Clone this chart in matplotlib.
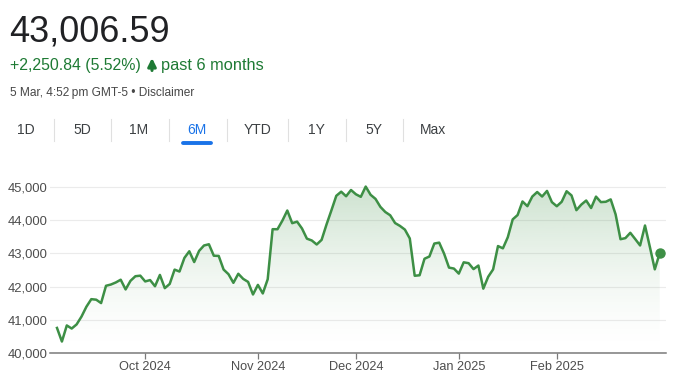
import numpy as np
import pandas as pd
import matplotlib
matplotlib.use("Agg")
import matplotlib.pyplot as plt
from matplotlib.patches import Polygon, FancyArrowPatch
from matplotlib.lines import Line2D
from matplotlib.ticker import StrMethodFormatter

plt.rcParams['font.family'] = ['Liberation Sans', 'DejaVu Sans']

# daily closes, 5 Sep 2024 -> 5 Mar 2025
sep = [40755, 40345, 40830, 40737, 40861, 41097, 41394, 41622, 41606, 41504,
       42025, 42063, 42125, 42208, 41915, 42175, 42313, 42330]
oct_ = [42156, 42197, 42011, 42352, 41954, 42080, 42512, 42454, 42864, 43065,
        42740, 43077, 43239, 43276, 42931, 42925, 42514, 42374, 42114, 42387,
        42233, 42142, 41763]
nov = [42052, 41794, 42222, 43730, 43729, 43989, 44293, 43911, 43958, 43751,
       43445, 43390, 43269, 43408, 43870, 44297, 44736, 44860, 44722, 44911]
dec = [44782, 44705, 45014, 44766, 44643, 44402, 44248, 44149, 43915, 43828,
       43717, 43450, 42327, 42342, 42840, 42907, 43297, 43325, 42992, 42573,
       42544]
jan = [42392, 42732, 42706, 42528, 42635, 41938, 42297, 42518, 43222, 43153,
       43488, 44025, 44157, 44565, 44424, 44714, 44850, 44714, 44883, 44545]
feb = [44422, 44556, 44873, 44748, 44303, 44471, 44594, 44368, 44711, 44546,
       44556, 44628, 44177, 43428, 43461, 43621, 43433, 43240, 43841]
mar = [43191, 42521, 43007]

values = sep + oct_ + nov + dec + jan + feb + mar

holidays = ['2024-11-28', '2024-12-25', '2025-01-01', '2025-01-09',
            '2025-01-20', '2025-02-17']
dates = pd.bdate_range('2024-09-05', '2025-03-05')
dates = dates[~dates.isin(pd.to_datetime(holidays))]

month_labels = ['Oct 2024', 'Nov 2024', 'Dec 2024', 'Jan 2025', 'Feb 2025']
y_ticks = [40000, 41000, 42000, 43000, 44000, 45000]

tabs = ['1D', '5D', '1M', '6M', 'YTD', '1Y', '5Y', 'Max']
active_tab = '6M'

price = '43,006.59'
change = '+2,250.84 (5.52%)'
period = 'past 6 months'
stamp = '5 Mar, 4:52\u2009pm GMT-5 \u2022 Disclaimer'

GREEN = '#3d8f45'
TEXT_GREEN = '#1e7a34'
BLUE = '#1a73e8'

W, H = 690, 378


def fx(px):
    return px / W


def fy(py):
    return 1 - py / H


idx = np.arange(len(values))
assert len(dates) == len(values)

# first trading day of each month Oct..Feb
month_start = pd.Series(idx, index=dates).groupby(dates.to_period('M')).first()
tick_pos = month_start.values[1:6]

fig = plt.figure(figsize=(W / 100, H / 100), dpi=100)

px_per = 4.9
x0 = -7 / px_per
x1 = x0 + 616 / px_per
ax = fig.add_axes([fx(50), 25 / H, 616 / W, 172.6 / H])

# gradient fill under the line
verts = list(zip(idx, values)) + [(idx[-1], 40000), (idx[0], 40000)]
clip = Polygon(verts, closed=True, facecolor='none', edgecolor='none')
ax.add_patch(clip)
t = np.linspace(0, 1, 256)
rgba = np.zeros((256, 1, 4))
rgba[:, 0, :3] = matplotlib.colors.to_rgb(GREEN)
rgba[:, 0, 3] = 0.26 * t ** 1.6
im = ax.imshow(rgba, extent=[idx[0], idx[-1], 40000, max(values)],
               aspect='auto', origin='lower', zorder=1)
im.set_clip_path(clip)

ax.plot(idx, values, color=GREEN, lw=1.8, zorder=3, solid_joinstyle='round')
ax.plot(idx[-1], values[-1], 'o', ms=6.5, color=GREEN, zorder=4)

ax.set_xlim(x0, x1)
ax.set_ylim(40000, 45200)
ax.set_yticks(y_ticks)
ax.yaxis.set_major_formatter(StrMethodFormatter('{x:,.0f}'))
ax.set_xticks(tick_pos)
ax.set_xticklabels(month_labels)
ax.grid(axis='y', color='#ebebeb', lw=0.8, zorder=0)
ax.set_axisbelow(True)

for s in ['top', 'right', 'left']:
    ax.spines[s].set_visible(False)
ax.spines['bottom'].set_color('#7a7a7a')
ax.spines['bottom'].set_linewidth(1.1)

ax.tick_params(axis='y', length=0, pad=2, labelsize=9.4, labelcolor='#4d4d4d')
ax.tick_params(axis='x', length=4, width=0.9, color='#7a7a7a', pad=1.5,
               labelsize=9.2, labelcolor='#4d4d4d')

# header
fig.text(fx(9), fy(42), price, fontsize=26, color='#202124', va='baseline')
fig.text(fx(10), fy(70), change, fontsize=11.4, color=TEXT_GREEN, va='baseline')
fig.add_artist(FancyArrowPatch((fx(152), fy(70.5)), (fx(152), fy(58)),
                               transform=fig.transFigure, arrowstyle='-|>',
                               mutation_scale=12, lw=2.2, color=TEXT_GREEN,
                               shrinkA=0, shrinkB=0))
fig.text(fx(161), fy(70), period, fontsize=11.8, color=TEXT_GREEN, va='baseline')
fig.text(fx(10), fy(96), stamp, fontsize=8.6, color='#474747', va='baseline')

# range tabs
tab_x = [26, 82, 139, 197, 258, 316, 374, 433]
sep_x = [54, 111, 169, 227, 288, 346, 403]
for label, x in zip(tabs, tab_x):
    c = BLUE if label == active_tab else '#3c4043'
    fig.text(fx(x), fy(130), label, fontsize=10, color=c, ha='center', va='center')
for x in sep_x:
    fig.add_artist(Line2D([fx(x), fx(x)], [fy(119), fy(141)], color='#e0e0e0', lw=0.8))
fig.add_artist(Line2D([fx(183), fx(211)], [fy(142.5), fy(142.5)], color=BLUE,
                      lw=2.8, solid_capstyle='round'))

fig.savefig('out.png', dpi=100)
